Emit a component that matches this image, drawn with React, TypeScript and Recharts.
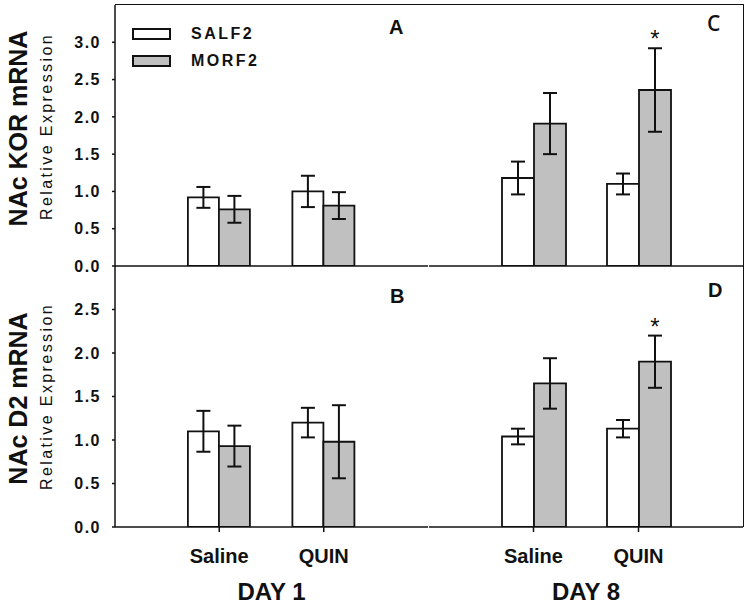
import React from "react";
import {
  BarChart, Bar, XAxis, YAxis, ErrorBar, Legend, LabelList,
} from "recharts";

const FONT = "'Liberation Sans', Arial, sans-serif";
const INK = "#111";
const GRAY = "#c0c0c0";

// treatment groups on the x axis
const groups = ["Saline", "QUIN"];
const seriesNames = ["SALF2", "MORF2"];

// NAc KOR mRNA
const korDay1Salf2 = [0.92, 1.0];
const korDay1Salf2Err = [0.14, 0.21];
const korDay1Morf2 = [0.76, 0.81];
const korDay1Morf2Err = [0.18, 0.18];
const korDay8Salf2 = [1.18, 1.1];
const korDay8Salf2Err = [0.22, 0.14];
const korDay8Morf2 = [1.91, 2.36];
const korDay8Morf2Err = [0.41, 0.56];

// NAc D2 mRNA
const d2Day1Salf2 = [1.1, 1.2];
const d2Day1Salf2Err = [0.235, 0.17];
const d2Day1Morf2 = [0.93, 0.98];
const d2Day1Morf2Err = [0.235, 0.42];
const d2Day8Salf2 = [1.04, 1.13];
const d2Day8Salf2Err = [0.09, 0.1];
const d2Day8Morf2 = [1.65, 1.9];
const d2Day8Morf2Err = [0.29, 0.3];

const noSig = [false, false];
const day8Sig = [false, true];

const korTicks = [0, 0.5, 1, 1.5, 2, 2.5, 3];
const d2Ticks = [0, 0.5, 1, 1.5, 2, 2.5];

function makeRows(s, sErr, m, mErr, sig) {
  return groups.map((g, i) => ({
    group: g,
    salf2: s[i],
    salf2Err: sErr[i],
    morf2: m[i],
    morf2Err: mErr[i],
    sig: sig[i],
  }));
}

const korDay1 = makeRows(korDay1Salf2, korDay1Salf2Err, korDay1Morf2, korDay1Morf2Err, noSig);
const korDay8 = makeRows(korDay8Salf2, korDay8Salf2Err, korDay8Morf2, korDay8Morf2Err, day8Sig);
const d2Day1 = makeRows(d2Day1Salf2, d2Day1Salf2Err, d2Day1Morf2, d2Day1Morf2Err, noSig);
const d2Day8 = makeRows(d2Day8Salf2, d2Day8Salf2Err, d2Day8Morf2, d2Day8Morf2Err, day8Sig);

function YTitle(props: any) {
  const vb = props.viewBox || { x: 0, y: 0, width: 115, height: 261 };
  const cy = vb.y + vb.height / 2 + (props.shift || 0);
  return (
    <g>
      <text
        transform={`translate(27, ${cy}) rotate(-90)`}
        textAnchor="middle"
        fontFamily={FONT}
        fontSize={25}
        fontWeight="bold"
        fill={INK}
      >
        {props.main}
      </text>
      <text
        transform={`translate(52, ${cy - 2}) rotate(-90)`}
        textAnchor="middle"
        fontFamily={FONT}
        fontSize={16}
        letterSpacing={2.4}
        fill={INK}
      >
        Relative Expression
      </text>
    </g>
  );
}

function Star(props: any) {
  const vb = props.viewBox || props;
  const row = props.rows[props.index];
  if (!row || !row.sig) return null;
  const { x, y, width, height } = vb;
  const errTop = y - (row.morf2Err * height) / row.morf2;
  return (
    <text x={x + width / 2} y={errTop - 1} textAnchor="middle" fontFamily={FONT} fontSize={24} fill={INK}>
      *
    </text>
  );
}

function LegendBox({ payload }: any) {
  const items = [...(payload || [])].sort(
    (a: any, b: any) => seriesNames.indexOf(a.value) - seriesNames.indexOf(b.value),
  );
  return (
    <div style={{ fontFamily: FONT }}>
      {items.map((e: any) => (
        <div key={e.value} style={{ display: "flex", alignItems: "center", height: 27 }}>
          <span
            style={{
              width: 39, height: 12, border: `2px solid ${INK}`, background: e.color, boxSizing: "border-box",
            }}
          />
          <span style={{ marginLeft: 20, fontSize: 16, fontWeight: "bold", letterSpacing: 2.5, color: INK }}>
            {e.value}
          </span>
        </div>
      ))}
    </div>
  );
}

function Panel({
  data, left, top, width, height, margin, ticks, domain, yTitle, shift, bottom, day, legend,
}: any) {
  return (
    <div style={{ position: "absolute", left, top }}>
      <BarChart width={width} height={height} data={data} margin={margin} barCategoryGap="20%" barGap={0}>
        <XAxis
          dataKey="group"
          height={bottom ? 78 : 12}
          padding={{ left: 52, right: 52 }}
          axisLine={{ stroke: INK, strokeWidth: 1.5 }}
          tickLine={bottom ? { stroke: INK, strokeWidth: 1.5 } : false}
          tickSize={5}
          tickMargin={17}
          tick={bottom ? { fill: INK, fontSize: 20, fontWeight: "bold", fontFamily: FONT } : false}
          label={
            day
              ? {
                  value: day, position: "insideBottom", offset: 5,
                  style: { fill: INK, fontSize: 24, fontWeight: "bold", fontFamily: FONT },
                }
              : undefined
          }
        />
        <YAxis
          domain={domain}
          ticks={ticks}
          interval={0}
          width={ticks ? 115 : 0}
          axisLine={{ stroke: INK, strokeWidth: 1.5 }}
          tickLine={ticks ? { stroke: INK, strokeWidth: 1.5 } : false}
          tickSize={3}
          tickMargin={11}
          tick={ticks ? { fill: INK, fontSize: 16, fontWeight: "bold", fontFamily: FONT, letterSpacing: 1.5 } : false}
          tickFormatter={(v) => v.toFixed(1)}
          label={yTitle ? <YTitle main={yTitle} shift={shift} /> : undefined}
          allowDataOverflow
        />
        {legend && (
          <Legend
            layout="vertical"
            align="center"
            verticalAlign="middle"
            content={<LegendBox />}
            wrapperStyle={{ left: 132, top: 20, width: "auto", height: "auto" }}
          />
        )}
        <Bar dataKey="salf2" name="SALF2" fill="#ffffff" stroke={INK} strokeWidth={1.8} isAnimationActive={false}>
          <ErrorBar dataKey="salf2Err" width={7} stroke={INK} strokeWidth={2} direction="y" />
        </Bar>
        <Bar dataKey="morf2" name="MORF2" fill={GRAY} stroke={INK} strokeWidth={1.8} isAnimationActive={false}>
          <ErrorBar dataKey="morf2Err" width={7} stroke={INK} strokeWidth={2} direction="y" />
          <LabelList dataKey="morf2" content={(p: any) => <Star {...p} rows={data} />} />
        </Bar>
      </BarChart>
    </div>
  );
}

const letterStyle: any = {
  position: "absolute", fontFamily: FONT, fontSize: 20, fontWeight: "bold", lineHeight: "20px", color: INK,
};

export default function App() {
  return (
    <div style={{ position: "absolute", left: 0, top: 0, width: 750, height: 605, background: "#fff" }}>
      <Panel
        data={korDay1} left={0} top={0} width={430} height={278}
        margin={{ top: 5, right: 2, bottom: 0, left: 0 }}
        ticks={korTicks} domain={[0, 3.5]} yTitle="NAc KOR mRNA" shift={-7} legend
      />
      <Panel
        data={korDay8} left={427} top={0} width={317} height={278}
        margin={{ top: 5, right: 1, bottom: 0, left: 2 }}
        domain={[0, 3.5]}
      />
      <Panel
        data={d2Day1} left={0} top={266} width={430} height={339}
        margin={{ top: 0, right: 2, bottom: 0, left: 0 }}
        ticks={d2Ticks} domain={[0, 3]} yTitle="NAc D2 mRNA" shift={2} bottom day="DAY 1"
      />
      <Panel
        data={d2Day8} left={427} top={266} width={317} height={339}
        margin={{ top: 0, right: 1, bottom: 0, left: 2 }}
        domain={[0, 3]} bottom day="DAY 8"
      />
      <div
        style={{
          position: "absolute", left: 115, top: 4, width: 629, height: 523,
          borderTop: `1.5px solid ${INK}`, borderRight: `1.5px solid ${INK}`, boxSizing: "border-box",
        }}
      />
      <div style={{ ...letterStyle, left: 389, top: 17 }}>A</div>
      <div style={{ ...letterStyle, left: 707, top: 13, fontSize: 21, fontFamily: "'Open Sans', sans-serif", fontWeight: 600 }}>C</div>
      <div style={{ ...letterStyle, left: 390, top: 286 }}>B</div>
      <div style={{ ...letterStyle, left: 708, top: 280 }}>D</div>
    </div>
  );
}
